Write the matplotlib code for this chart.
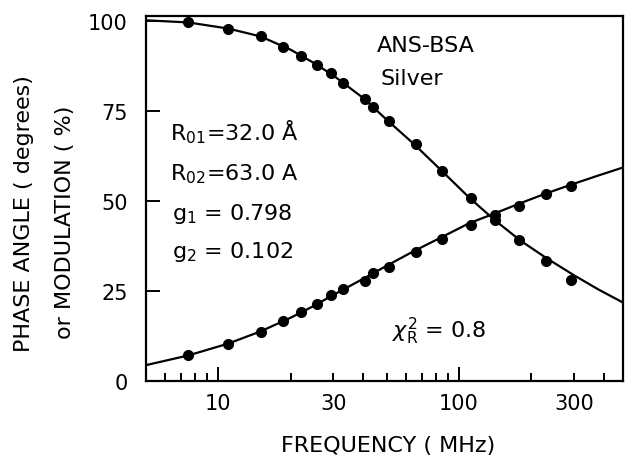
import matplotlib
matplotlib.use('Agg')
import matplotlib.pyplot as plt
from matplotlib.ticker import FixedLocator, NullFormatter

# measured points (MHz)
freq = [7.5, 11, 15, 18.5, 22, 25.8, 29.5, 33, 40.5, 44, 51, 66, 85, 112, 141, 178, 230, 292]
modulation = [99.7, 97.9, 95.8, 92.9, 90.2, 87.8, 85.5, 82.8, 78.3, 76.1, 72.1, 65.9, 58.4, 50.8, 44.6, 39.2, 33.3, 28.1]
phase = [7.1, 10.4, 13.6, 16.7, 19.3, 21.3, 23.8, 25.5, 27.8, 29.9, 31.8, 35.8, 39.4, 43.4, 46.0, 48.7, 51.9, 54.2]

# fitted curves
fit_freq = [5, 7.5, 11, 15, 20, 25, 30, 40, 50, 65, 85, 110, 140, 180, 230, 300, 380, 480]
fit_mod = [100.2, 99.6, 97.9, 95.7, 92.0, 88.3, 84.9, 78.6, 72.6, 65.8, 58.3, 51.0, 44.8, 39.0, 34.2, 29.4, 25.4, 21.8]
fit_phase = [4.4, 7.1, 10.4, 13.8, 17.6, 20.9, 23.9, 28.4, 32.0, 36.1, 40.0, 43.8, 46.5, 49.4, 52.1, 54.8, 57.1, 59.3]

major_x = [10, 100]
minor_x = [6, 7, 8, 9, 20, 30, 40, 50, 60, 70, 80, 90, 200, 300, 400]
xlabels = ['10', '30', '100', '300']

plt.rcParams['font.family'] = 'DejaVu Sans'
plt.rcParams['mathtext.fontset'] = 'dejavusans'

fig = plt.figure(figsize=(6.38, 4.60), dpi=100)
ax = fig.add_axes([0.2288, 0.1696, 0.7476, 0.7935])

ax.plot(fit_freq, fit_mod, color='black', lw=1.6)
ax.plot(fit_freq, fit_phase, color='black', lw=1.6)
ax.plot(freq, modulation, 'o', color='black', ms=7)
ax.plot(freq, phase, 'o', color='black', ms=7)

ax.set_xscale('log')
ax.set_xlim(5, 480)
ax.set_ylim(0, 101.4)

for s in ax.spines.values():
    s.set_linewidth(1.6)

ax.xaxis.set_major_locator(FixedLocator(major_x))
ax.xaxis.set_minor_locator(FixedLocator(minor_x))
ax.xaxis.set_major_formatter(NullFormatter())
ax.xaxis.set_minor_formatter(NullFormatter())
ax.tick_params(axis='x', which='major', direction='in', length=10, width=1.4)
ax.tick_params(axis='x', which='minor', direction='in', length=6, width=1.4)
for v, lab in zip([10, 30, 100, 300], xlabels):
    ax.text(v, -6.0, lab, ha='center', va='center', fontsize=15)

ax.set_yticks([0, 25, 50, 75, 100])
ax.set_yticklabels(['0', '25', '50', '75', '100'])
ax.tick_params(axis='y', direction='in', length=10, width=1.4, pad=13, labelsize=15)

fig.text(0.609, 0.030, 'FREQUENCY ( MHz)', ha='center', va='center', fontsize=16)
fig.text(0.038, 0.535, 'PHASE ANGLE ( degrees)', rotation=90, ha='center', va='center', fontsize=16)
fig.text(0.102, 0.517, 'or MODULATION ( %)', rotation=90, ha='center', va='center', fontsize=16)

tk = dict(transform=ax.transAxes, fontsize=16, va='baseline')
ax.text(0.484, 0.905, 'ANS-BSA', **tk)
ax.text(0.491, 0.814, 'Silver', **tk)
ax.text(0.050, 0.663, r'R$_{01}$=32.0 Å', **tk)
ax.text(0.050, 0.553, r'R$_{02}$=63.0 A', **tk)
ax.text(0.055, 0.444, r'g$_1$ = 0.798', **tk)
ax.text(0.055, 0.340, r'g$_2$ = 0.102', **tk)
ax.text(0.516, 0.121, r'$\chi^2_{\mathrm{R}}$ = 0.8', **tk)

fig.savefig('out.png', dpi=100)
